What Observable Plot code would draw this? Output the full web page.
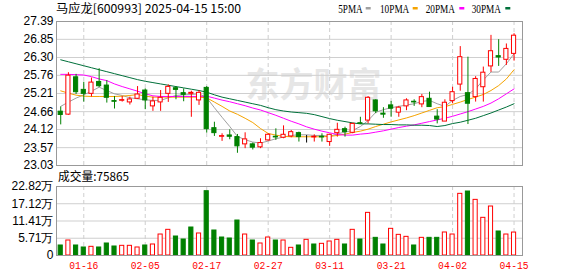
<!DOCTYPE html>
<html><head><meta charset="utf-8">
<script src="https://cdn.jsdelivr.net/npm/d3@7"></script>
<script src="https://cdn.jsdelivr.net/npm/@observablehq/plot@0.6"></script>
<style>
html,body{margin:0;padding:0;background:#fff}
body{width:578px;height:276px;overflow:hidden;position:relative}
#price,#vol,#over{position:absolute;left:0}
#price{top:0}#vol{top:170px}#over{top:0;pointer-events:none}
</style></head><body>
<div id="price"></div><div id="vol"></div>
<svg id="over" width="578" height="276"></svg>
<script>
const dates = ["01-13","01-14","01-15","01-16","01-17","01-20","01-21","01-22","01-23","01-24","01-27",
"02-05","02-06","02-07","02-10","02-11","02-12","02-13","02-14","02-17","02-18","02-19","02-20","02-21","02-24","02-25","02-26","02-27","02-28",
"03-03","03-04","03-05","03-06","03-07","03-10","03-11","03-12","03-13","03-14","03-17","03-18","03-19","03-20","03-21","03-24","03-25","03-26","03-27","03-28","03-31",
"04-01","04-02","04-03","04-07","04-08","04-09","04-10","04-11","04-14","04-15"];
const open  = [24.66,24.57,25.70,25.32,25.20,25.56,25.45,24.98,24.99,24.94,25.05,25.30,24.82,24.94,25.20,25.37,25.22,25.20,25.00,25.38,24.16,23.90,23.94,23.89,23.67,23.67,23.58,23.79,23.90,23.87,23.91,24.01,23.87,23.88,23.90,23.74,24.01,24.13,24.02,24.31,24.39,25.00,24.60,24.85,24.63,24.82,24.96,24.88,25.05,24.51,24.36,24.98,25.48,25.22,25.10,25.40,26.03,26.34,26.23,26.41];
const high  = [24.80,25.84,25.79,25.55,25.68,25.96,25.60,25.12,25.12,25.10,25.42,25.35,25.10,25.30,25.47,25.42,25.35,25.28,25.30,25.42,24.34,23.99,24.11,23.97,24.02,23.71,23.84,23.99,24.14,24.23,24.09,24.04,23.94,23.96,23.99,23.97,24.31,24.19,24.31,24.49,25.12,25.02,24.78,24.97,24.82,25.05,25.02,25.18,25.25,24.72,25.02,25.40,26.63,26.31,25.72,26.01,26.97,26.84,26.71,27.02];
const low   = [24.26,24.55,25.18,24.95,25.10,25.39,24.92,24.74,24.95,24.86,25.03,24.72,24.67,24.67,24.94,25.02,24.96,24.49,24.85,24.01,23.91,23.76,23.81,23.40,23.54,23.50,23.54,23.77,23.79,23.84,23.87,23.74,23.71,23.74,23.74,23.61,23.89,23.89,23.99,24.27,24.29,24.60,24.46,24.49,24.49,24.69,24.82,24.78,24.79,24.29,24.36,24.90,25.28,24.27,24.95,24.95,25.85,26.03,26.06,26.19];
const close = [24.56,25.75,25.25,25.20,25.54,25.43,25.08,24.96,25.01,25.03,25.18,25.00,24.97,25.08,25.41,25.32,25.17,25.23,25.23,24.13,24.01,23.92,23.90,23.61,23.82,23.57,23.71,23.96,23.88,23.96,24.04,23.89,23.87,23.90,23.88,23.96,24.11,24.04,24.29,24.29,25.08,24.67,24.57,24.75,24.78,25.00,24.94,25.10,24.80,24.42,24.93,25.25,26.31,24.90,25.65,25.84,26.49,26.30,26.56,26.96];
const ma5  = [24.82,24.95,25.07,25.17,25.28,25.40,25.30,25.20,25.15,25.08,25.05,25.02,25.00,25.00,25.08,25.15,25.17,25.18,25.20,25.08,24.78,24.49,24.21,23.91,23.81,23.74,23.71,23.77,23.84,23.89,23.94,23.96,23.96,23.94,23.94,23.91,23.99,24.04,24.09,24.21,24.39,24.64,24.72,24.78,24.82,24.86,24.90,24.97,25.00,24.90,24.82,25.00,25.12,25.18,25.35,25.62,25.86,25.86,26.11,26.41];
const ma10 = [25.29,25.22,25.16,25.13,25.12,25.12,25.12,25.12,25.13,25.15,25.18,25.13,25.10,25.10,25.10,25.10,25.10,25.10,25.10,25.08,24.95,24.82,24.68,24.58,24.46,24.33,24.15,24.00,23.95,23.91,23.90,23.90,23.90,23.90,23.90,23.91,23.94,23.98,24.03,24.07,24.13,24.21,24.28,24.35,24.41,24.47,24.54,24.62,24.70,24.78,24.81,24.88,24.95,25.03,25.10,25.18,25.30,25.45,25.65,25.93];
const ma20 = [25.79,25.79,25.78,25.77,25.72,25.65,25.60,25.50,25.42,25.35,25.28,25.20,25.14,25.12,25.12,25.12,25.12,25.12,25.12,25.13,25.07,25.01,24.96,24.90,24.84,24.77,24.71,24.63,24.55,24.46,24.37,24.29,24.20,24.13,24.07,24.02,23.97,23.95,23.95,23.98,24.00,24.04,24.08,24.13,24.18,24.22,24.26,24.31,24.36,24.41,24.46,24.52,24.59,24.66,24.74,24.82,24.92,25.05,25.20,25.35];
const ma30 = [26.23,26.17,26.11,26.05,25.99,25.93,25.87,25.81,25.75,25.69,25.63,25.58,25.54,25.50,25.46,25.42,25.38,25.34,25.30,25.25,25.17,25.10,25.05,25.00,24.95,24.90,24.85,24.78,24.72,24.68,24.65,24.63,24.61,24.57,24.51,24.45,24.40,24.36,24.32,24.29,24.29,24.28,24.27,24.27,24.26,24.26,24.25,24.25,24.24,24.21,24.24,24.30,24.34,24.40,24.46,24.54,24.62,24.71,24.80,24.90];
// volume in 万 (10,000 lots)
const volume = [3.31,4.96,3.31,2.65,2.87,2.65,3.97,2.98,3.20,3.20,2.65,3.31,3.64,6.94,8.49,6.28,5.29,9.26,7.28,21.27,8.27,5.95,5.62,11.57,6.94,4.96,3.97,5.95,4.96,4.96,2.54,3.31,5.18,3.64,3.86,4.63,5.18,3.64,8.49,5.29,14.10,5.84,3.64,8.82,6.83,6.17,3.31,5.84,5.84,5.84,7.61,6.94,20.39,21.16,18.40,12.46,16.20,7.94,6.94,7.59];
const volDir = ["g","r","g","g","r","g","g","g","r","r","r","g","r","r","r","g","g","g","r","g","g","g","g","g","r","g","r","r","g","r","r","g","r","g","r","r","r","g","r","g","r","g","g","r","r","r","g","r","g","g","r","r","r","g","r","r","r","g","r","r"];
const priceTicks = [23.03,23.57,24.12,24.66,25.21,25.76,26.30,26.85,27.39];
const volTicks = [0,5.71,11.41,17.12,22.82];
const dateTicks = ["01-16","02-05","02-17","02-27","03-11","03-21","04-02","04-15"];
const maNames = ["5PMA","10PMA","20PMA","30PMA"];
const maColors = ["#a0a0a0","#f5a300","#ff00ff","#00703a"];
const titleText = "马应龙[600993] 2025-04-15 15:00";
const volCaption = "成交量:75865";

const RED = "#ff0000", GREEN = "#008000";
const HW = 0.27;
const candles = dates.map((d,i)=>({i, o:open[i], h:high[i], l:low[i], c:close[i],
  col: close[i]>open[i]?RED:close[i]<open[i]?GREEN:"#000000"}));
const vols = volume.map((v,i)=>({i, v, col: volDir[i]==="r"?RED:GREEN}));
const tickIdx = dateTicks.map(t=>dates.indexOf(t));
const xDomain = [-0.55, 60.1];
const common = {width:578, marginLeft:56, marginRight:56, color:{type:"identity"},
  x:{type:"linear", domain:xDomain, axis:null},
  style:{fontFamily:"'Liberation Sans', Arial, sans-serif", fontSize:"12px", color:"#000", background:"transparent", overflow:"visible"}};

const maData = [ma5,ma10,ma20,ma30];
const price = Plot.plot({...common, height:170, marginTop:21, marginBottom:5,
  y:{domain:[23.03,27.39], axis:null},
  marks:[
    Plot.text(["东方财富"], {frameAnchor:"middle", dx:24, dy:-7, fontSize:34, fontWeight:"bold", fill:"#e6e6e6", fontFamily:"'Noto Sans CJK SC', sans-serif"}),
    Plot.gridY(priceTicks, {stroke:"#cfcfcf", strokeOpacity:1}),
    Plot.gridX(tickIdx, {stroke:"#cfcfcf", strokeOpacity:1, strokeDasharray:"4,3"}),
    Plot.axisY(priceTicks, {tickSize:0, tickPadding:3, label:null, tickFormat:d=>d.toFixed(2), fontSize:12}),
    ...maData.map((arr,k)=>Plot.line(arr, {x:(d,i)=>i, y:d=>d, stroke:maColors[k], strokeWidth:1})),
    Plot.ruleX(candles, {x:"i", y1:"l", y2:"h", stroke:"col"}),
    Plot.rect(candles, {x1:d=>d.i-HW, x2:d=>d.i+HW, y1:"o", y2:"c", fill:d=>d.col===GREEN?GREEN:"#ffffff", stroke:"col"}),
    Plot.frame({stroke:"#999"})
  ]});
document.getElementById("price").append(price);

const vol = Plot.plot({...common, height:106, marginTop:16, marginBottom:21,
  y:{domain:[0,22.82], axis:null},
  marks:[
    Plot.gridY(volTicks, {stroke:"#cfcfcf", strokeOpacity:1}),
    Plot.gridX(tickIdx, {stroke:"#cfcfcf", strokeOpacity:1, strokeDasharray:"4,3"}),
    Plot.axisY(volTicks, {tickSize:0, tickPadding:3, label:null, tickFormat:d=>d===0?"0":d.toFixed(2)+"万", fontSize:12}),
    Plot.axisX(tickIdx, {tickSize:0, tickPadding:6, label:null, tickFormat:i=>dates[i], color:RED, fontSize:11, fontFamily:"'Liberation Mono', monospace"}),
    Plot.rect(vols, {x1:d=>d.i-HW, x2:d=>d.i+HW, y1:()=>0, y2:"v", fill:d=>d.col===GREEN?GREEN:"#ffffff", stroke:"col"}),
    Plot.frame({stroke:"#999"})
  ]});
document.getElementById("vol").append(vol);
d3.select(vol).selectAll('g[aria-label="x-axis tick label"] text').attr("textLength",29).attr("lengthAdjust","spacingAndGlyphs");

// title, legend, caption
const over = d3.select("#over");
over.append("text").attr("x",56).attr("y",13).attr("font-size",12).attr("font-family","'Noto Sans CJK SC','Liberation Mono',sans-serif")
  .attr("textLength",185).attr("lengthAdjust","spacingAndGlyphs").text(titleText);
const legX = [338.3,380,425.7,471.7], legW=[24.4,29.3,29.3,29.3], boxX=[365.7,412.7,459.3,505.3];
maNames.forEach((n,k)=>{
  over.append("text").attr("x",legX[k]).attr("y",12.5).attr("font-size",12).attr("font-family","'Liberation Serif',serif")
    .attr("textLength",legW[k]).attr("lengthAdjust","spacingAndGlyphs").text(n);
  over.append("rect").attr("x",boxX[k]).attr("y",7).attr("width",5).attr("height",2.5).attr("fill",maColors[k]);
});
over.append("text").attr("x",58).attr("y",181).attr("font-size",12).attr("font-family","'Noto Sans CJK SC','Liberation Mono',sans-serif")
  .attr("textLength",71).attr("lengthAdjust","spacingAndGlyphs").text(volCaption);
</script>
</body></html>
